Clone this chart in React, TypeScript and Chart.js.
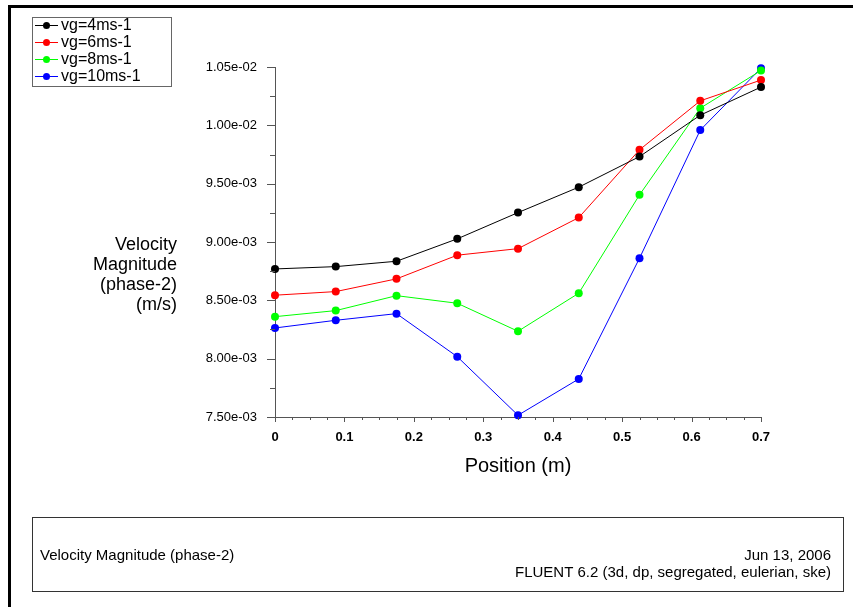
import React, { useEffect, useRef } from "react";
import { Chart, registerables } from "chart.js";

Chart.register(...registerables);

const positions = [0, 0.0875, 0.175, 0.2625, 0.35, 0.4375, 0.525, 0.6125, 0.7];
const seriesLabels = ["vg=4ms-1", "vg=6ms-1", "vg=8ms-1", "vg=10ms-1"];
const vg4 = [0.008769, 0.008789, 0.008835, 0.009027, 0.009252, 0.00947, 0.009732, 0.010087, 0.010328];
const vg6 = [0.008544, 0.008575, 0.008684, 0.008887, 0.008943, 0.009209, 0.00979, 0.01021, 0.010388];
const vg8 = [0.00836, 0.008412, 0.00854, 0.008475, 0.008235, 0.008561, 0.009404, 0.010147, 0.01047];
const vg10 = [0.008263, 0.008329, 0.008386, 0.008017, 0.007515, 0.007826, 0.008861, 0.009959, 0.01049];
const seriesColors = ["#000000", "#ff0000", "#00ff00", "#0000ff"];
const yTitleLines = ["Velocity", "Magnitude", "(phase-2)", "(m/s)"];
const xTitle = "Position (m)";
const footerLeft = "Velocity Magnitude (phase-2)";
const footerDate = "Jun 13, 2006";
const footerSolver = "FLUENT 6.2 (3d, dp, segregated, eulerian, ske)";

const FONT = "'Liberation Sans', Arial, sans-serif";

const fmtExp = (v: number) => {
  const s = Number(v).toExponential(2);
  const [m, e] = s.split("e");
  const sign = e[0] === "-" ? "-" : "+";
  const digits = e.replace(/^[+-]/, "").padStart(2, "0");
  return `${m}e${sign}${digits}`;
};

const decorPlugin = {
  id: "decor",
  afterDraw(chart: any) {
    const ctx = chart.ctx;
    const xs = chart.scales.x;
    const ys = chart.scales.y;
    const area = chart.chartArea;
    ctx.save();
    // outer frame (top & left)
    ctx.fillStyle = "#000";
    ctx.fillRect(8, 5, 853 - 8, 3);
    ctx.fillRect(8, 5, 3, 607 - 5);

    // ticks
    ctx.strokeStyle = "#555";
    ctx.lineWidth = 1;
    ctx.beginPath();
    for (let i = 0; i <= 28; i++) {
      const v = i * 0.025;
      const px = Math.round(xs.getPixelForValue(v)) + 0.5;
      const len = i % 4 === 0 ? 5 : 3;
      ctx.moveTo(px, area.bottom);
      ctx.lineTo(px, area.bottom + len);
    }
    for (let i = 0; i <= 12; i++) {
      const v = 0.0075 + i * 0.00025;
      const py = Math.round(ys.getPixelForValue(v)) + 0.5;
      const len = i % 2 === 0 ? 8 : 5;
      ctx.moveTo(area.left, py);
      ctx.lineTo(area.left - len, py);
    }
    ctx.stroke();

    // y title
    ctx.fillStyle = "#000";
    ctx.font = `18px ${FONT}`;
    ctx.textAlign = "right";
    ctx.textBaseline = "middle";
    const yTop = 245;
    yTitleLines.forEach((t, i) => ctx.fillText(t, 177, yTop + i * 20));

    // x title
    ctx.textAlign = "center";
    ctx.font = `20px ${FONT}`;
    ctx.fillText(xTitle, (area.left + area.right) / 2, 466);

    // legend
    ctx.strokeStyle = "#666";
    ctx.strokeRect(32.5, 17.5, 139, 69);
    ctx.font = `16px ${FONT}`;
    ctx.textAlign = "left";
    chart.data.datasets.forEach((ds: any, i: number) => {
      const cy = 25 + i * 17;
      ctx.strokeStyle = ds.borderColor;
      ctx.beginPath();
      ctx.moveTo(35, cy + 0.5);
      ctx.lineTo(58, cy + 0.5);
      ctx.stroke();
      ctx.fillStyle = ds.borderColor;
      ctx.beginPath();
      ctx.arc(46.5, cy + 0.5, 3.5, 0, Math.PI * 2);
      ctx.fill();
      ctx.fillStyle = "#000";
      ctx.fillText(ds.label, 61, cy + 1);
    });

    // footer box
    ctx.strokeStyle = "#333";
    ctx.strokeRect(32.5, 517.5, 811, 74);
    ctx.font = `15px ${FONT}`;
    ctx.fillStyle = "#000";
    ctx.textAlign = "left";
    ctx.fillText(footerLeft, 40, 556);
    ctx.textAlign = "right";
    ctx.fillText(footerDate, 831, 556);
    ctx.fillText(footerSolver, 831, 573);
    ctx.restore();
  },
};

export default function App() {
  const ref = useRef<HTMLCanvasElement>(null);
  useEffect(() => {
    document.body.style.margin = "0";
    const data = [vg4, vg6, vg8, vg10];
    const chart = new Chart(ref.current!, {
      type: "line",
      data: {
        datasets: data.map((arr, i) => ({
          label: seriesLabels[i],
          data: positions.map((x, j) => ({ x, y: arr[j] })),
          borderColor: seriesColors[i],
          backgroundColor: seriesColors[i],
          pointBackgroundColor: seriesColors[i],
          borderWidth: 1,
          pointRadius: 4,
          pointBorderWidth: 0,
          tension: 0,
          clip: false as any,
        })),
      },
      options: {
        responsive: false,
        animation: false,
        events: [],
        layout: { padding: { left: 0, top: 67, right: 92, bottom: 130 } },
        plugins: { legend: { display: false }, tooltip: { enabled: false } },
        scales: {
          x: {
            type: "linear",
            min: 0,
            max: 0.7,
            ticks: {
              stepSize: 0.1,
              autoSkip: false,
              maxRotation: 0,
              padding: 5,
              color: "#000",
              font: { family: FONT, size: 13, weight: "bold" },
              callback: (v: any) => String(Math.round(Number(v) * 10) / 10),
            },
            grid: { drawOnChartArea: false, color: "rgba(0,0,0,0)", tickLength: 8 },
            border: { display: true, color: "#555", width: 1 },
            afterFit: (s: any) => {
              s.height = 60;
            },
          },
          y: {
            type: "linear",
            min: 0.0075,
            max: 0.0105,
            ticks: {
              stepSize: 0.0005,
              autoSkip: false,
              padding: 10,
              color: "#000",
              font: { family: FONT, size: 13 },
              callback: (v: any) => fmtExp(Number(v)),
            },
            grid: { drawOnChartArea: false, color: "rgba(0,0,0,0)", tickLength: 8 },
            border: { display: true, color: "#555", width: 1 },
            afterFit: (s: any) => {
              s.width = 275;
            },
          },
        },
      },
      plugins: [decorPlugin],
    });
    return () => chart.destroy();
  }, []);
  return (
    <div style={{ position: "absolute", left: 0, top: 0, width: 853, height: 607, background: "#fff" }}>
      <canvas ref={ref} width={853} height={607} style={{ display: "block" }} />
    </div>
  );
}
